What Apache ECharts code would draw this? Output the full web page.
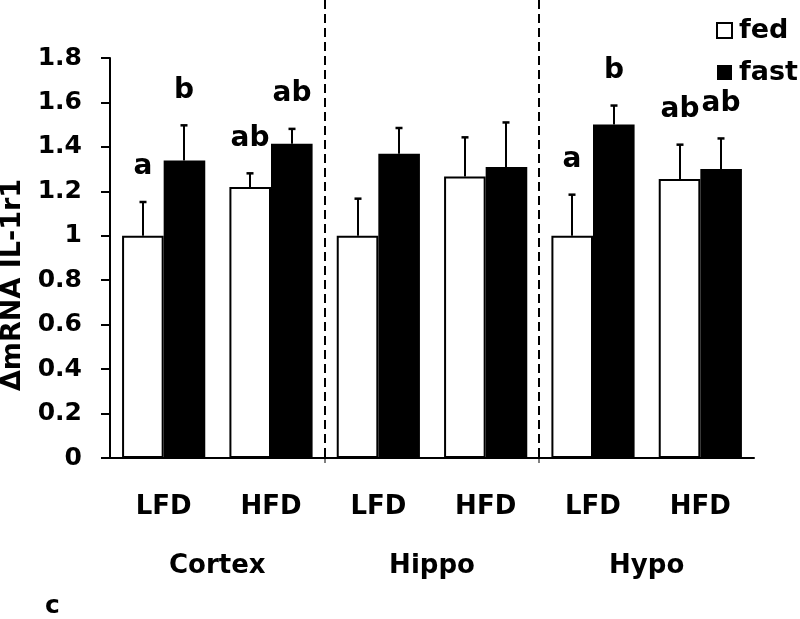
<!DOCTYPE html>
<html><head><meta charset="utf-8">
<script src="https://cdn.jsdelivr.net/npm/echarts@6/dist/echarts.min.js"></script>
<style>html,body{margin:0;padding:0;background:#fff}#c{width:800px;height:619px}</style>
</head><body><div id="c"></div>
<script>
var diets = ['LFD','HFD','LFD','HFD','LFD','HFD'];
var regions = ['Cortex','Hippo','Hypo'];
var fedValues = [1.00, 1.22, 1.00, 1.267, 1.00, 1.256];
var fedErrors = [0.152, 0.061, 0.167, 0.176, 0.185, 0.154];
var fastValues = [1.339, 1.414, 1.369, 1.31, 1.501, 1.30];
var fastErrors = [0.158, 0.067, 0.116, 0.20, 0.085, 0.138];
var fedLetters = ['a','ab','','','a','ab'];
var fastLetters = ['b','ab','','','b','ab'];
var yTicks = [0,0.2,0.4,0.6,0.8,1,1.2,1.4,1.6,1.8];

var FONT = 'DejaVu Sans';
var CAT_GAP = 0.225;

function errSeries(name, values, errors, letters, side) {
  var data = values.map(function(v,i){ return [i, v, errors[i]]; });
  return {
    type: 'custom', name: name + '_err', xAxisIndex: 0, yAxisIndex: 0, z: 5,
    data: data, silent: true,
    renderItem: function(params, api) {
      var i = api.value(0), v = api.value(1), e = api.value(2);
      var letter = letters[params.dataIndex];
      var bandW = api.size([1, 0])[0];
      var bw = bandW * (1 - CAT_GAP) / 2;
      var c = api.coord([i, v]);
      var x = Math.round(c[0] + side * bw / 2);
      var top = api.coord([i, v + e])[1];
      var children = [
        {type:'line', shape:{x1:x, y1:c[1], x2:x, y2:top}, style:{stroke:'#000', lineWidth:2}},
        {type:'line', shape:{x1:x-3.5, y1:top, x2:x+3.5, y2:top}, style:{stroke:'#000', lineWidth:2.5}}
      ];
      if (letter) {
        children.push({type:'text', style:{text: letter, x: x, y: top - 35, align:'center', verticalAlign:'middle',
          fill:'#000', font:'bold 28px "' + FONT + '"'}});
      }
      return {type:'group', children: children};
    }
  };
}

var chart = echarts.init(document.getElementById('c'));
chart.setOption({
  animation: false,
  backgroundColor: '#fff',
  grid: {left: 110, right: 46, top: 58, bottom: 161, containLabel: false, outerBoundsMode: 'none'},
  legend: {
    orient: 'vertical', left: 711, top: 12, itemWidth: 15, itemHeight: 15, itemGap: 15,
    icon: 'rect',
    textStyle: {fontFamily: FONT, fontWeight: 'bold', fontSize: 27, color: '#000', padding: [0,0,0,2]},
    data: ['fed','fast']
  },
  xAxis: [
    {type:'category', data: diets, position:'bottom',
     axisLine:{show:true, lineStyle:{color:'#000', width:2}},
     axisTick:{show:false},
     axisLabel:{color:'#000', fontFamily: FONT, fontWeight:'bold', fontSize:26, margin:36}},
    {type:'category', data: regions, position:'bottom',
     axisLine:{show:false},
     axisTick:{show:false},
     axisLabel:{color:'#000', fontFamily: FONT, fontWeight:'bold', fontSize:26, margin:95}}
  ],
  yAxis: {
    type:'value', min: yTicks[0], max: yTicks[yTicks.length-1], interval: 0.2,
    name: 'ΔmRNA IL-1r1', nameLocation:'middle', nameGap: 80, nameRotate: 90,
    nameTextStyle:{color:'#000', fontFamily: FONT, fontWeight:'bold', fontSize:27, padding:[0,54,0,0]},
    axisLine:{show:true, lineStyle:{color:'#000', width:2}},
    axisTick:{show:true, inside:false, length:9, lineStyle:{color:'#000', width:2}},
    splitLine:{show:false},
    axisLabel:{color:'#000', fontFamily: FONT, fontWeight:'bold', fontSize:25, margin:28,
      formatter: function(v){ return String(Math.round(v*10)/10); }}
  },
  series: [
    {name:'fed', type:'bar', data: fedValues, barGap:'0%', barCategoryGap: (CAT_GAP*100)+'%',
     itemStyle:{color:'#fff', borderColor:'#000', borderWidth:2}},
    {name:'fast', type:'bar', data: fastValues, barGap:'0%', barCategoryGap: (CAT_GAP*100)+'%',
     itemStyle:{color:'#000', borderColor:'#000', borderWidth:0}},
    errSeries('fed', fedValues, fedErrors, fedLetters, -1),
    errSeries('fast', fastValues, fastErrors, fastLetters, 1)
  ],
  graphic: []
});

// dashed separators between regions, placed through the axis scale
var xs = [1.5, 3.5].map(function(b){
  var a = chart.convertToPixel({xAxisIndex:0}, Math.floor(b));
  var c = chart.convertToPixel({xAxisIndex:0}, Math.ceil(b));
  return Math.round((a + c) / 2);
});
var y0 = chart.convertToPixel({yAxisIndex:0}, 0);
var g = [];
xs.forEach(function(x){
  g.push({type:'line', shape:{x1:x, y1:0, x2:x, y2:y0}, style:{stroke:'#000', lineWidth:2, lineDash:[9,5]}, z:10});
  g.push({type:'line', shape:{x1:x, y1:y0, x2:x, y2:y0+5}, style:{stroke:'#000', lineWidth:1}, z:10});
});
g.push({type:'text', x: 45, y: 606, style:{text:'c', fill:'#000', font:'bold 25px "DejaVu Sans"', verticalAlign:'middle'}});
chart.setOption({graphic: g});
</script>
</body></html>
